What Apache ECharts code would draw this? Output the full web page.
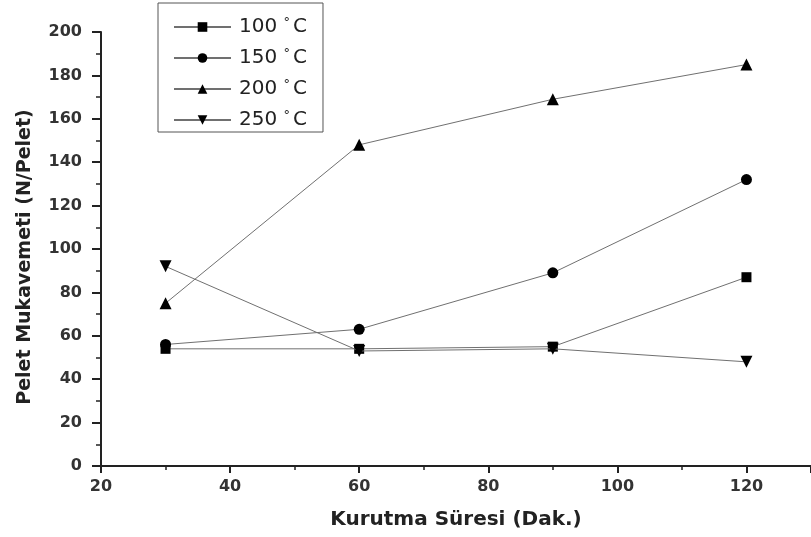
<!DOCTYPE html>
<html><head><meta charset="utf-8">
<script src="https://cdn.jsdelivr.net/npm/echarts@6/dist/echarts.min.js"></script>
<style>html,body{margin:0;padding:0;background:#fff}#c{width:811px;height:537px}</style>
</head><body><div id="c"></div>
<script>
const xValues = [30, 60, 90, 120];
const seriesNames = ['100 °C', '150 °C', '200 °C', '250 °C'];
const s100 = [54, 54, 55, 87];
const s150 = [56, 63, 89, 132];
const s200 = [75, 148, 169, 185];
const s250 = [92, 53, 54, 48];
const xTitle = 'Kurutma Süresi (Dak.)';
const yTitle = 'Pelet Mukavemeti (N/Pelet)';

const seriesData = [s100, s150, s200, s250];
const symbols = ['rect', 'circle', 'triangle', 'triangle'];
const rotates = [0, 0, 0, 180];
const sizes = [10, 11, 12, 12];
const FONT = 'DejaVu Sans, Verdana, sans-serif';

const chart = echarts.init(document.getElementById('c'));
chart.setOption({
  animation: false,
  backgroundColor: '#fff',
  grid: { left: 101, right: -3, top: 32, bottom: 71 },
  legend: {
    left: 158, top: 3, orient: 'vertical',
    padding: [13, 16, 2, 15],
    itemGap: 10,
    itemWidth: 57, itemHeight: 12,
    borderColor: '#555', borderWidth: 1,
    data: seriesNames,
    formatter: function (n) { const p = n.split(' '); return '{n|' + p[0] + ' }{s|°}{n|C}'; },
    textStyle: {
      rich: {
        n: { fontFamily: FONT, fontSize: 20, lineHeight: 22, color: '#222', padding: [0, 0, 0, 3] },
        s: { fontFamily: FONT, fontSize: 13, lineHeight: 22, color: '#222', verticalAlign: 'top', padding: [0, 0, 6, 0] }
      }
    }
  },
  xAxis: {
    type: 'value', min: 20, max: 130, interval: 20,
    name: xTitle, nameLocation: 'middle', nameGap: 44,
    nameTextStyle: { fontFamily: FONT, fontWeight: 'bold', fontSize: 20, color: '#222' },
    axisLine: { lineStyle: { color: '#222', width: 2 } },
    axisTick: { show: true, inside: false, length: 7, lineStyle: { color: '#222', width: 2 } },
    minorTick: { show: true, splitNumber: 2, length: 4, lineStyle: { color: '#222', width: 1.5 } },
    splitLine: { show: false },
    axisLabel: { showMaxLabel: false, fontFamily: FONT, fontWeight: 'bold', fontSize: 16, color: '#333', margin: 13 }
  },
  yAxis: {
    type: 'value', min: 0, max: 200, interval: 20,
    name: yTitle, nameLocation: 'middle', nameGap: 66,
    nameTextStyle: { fontFamily: FONT, fontWeight: 'bold', fontSize: 19, color: '#222', padding: [0, 16, 0, 0] },
    axisLine: { show: true, lineStyle: { color: '#222', width: 2 } },
    axisTick: { show: true, inside: false, length: 9, lineStyle: { color: '#222', width: 2 } },
    minorTick: { show: true, splitNumber: 2, length: 5, lineStyle: { color: '#222', width: 1.5 } },
    splitLine: { show: false },
    axisLabel: { fontFamily: FONT, fontWeight: 'bold', fontSize: 16, color: '#333', margin: 19 }
  },
  series: seriesNames.map((name, i) => ({
    name: name, type: 'line',
    data: xValues.map((x, j) => [x, seriesData[i][j]]),
    symbol: symbols[i], symbolRotate: rotates[i], symbolSize: sizes[i],
    showAllSymbol: true,
    lineStyle: { color: '#707070', width: 1 },
    itemStyle: { color: '#000', borderWidth: 0 },
    z: 2 + i
  }))
});
</script></body></html>
